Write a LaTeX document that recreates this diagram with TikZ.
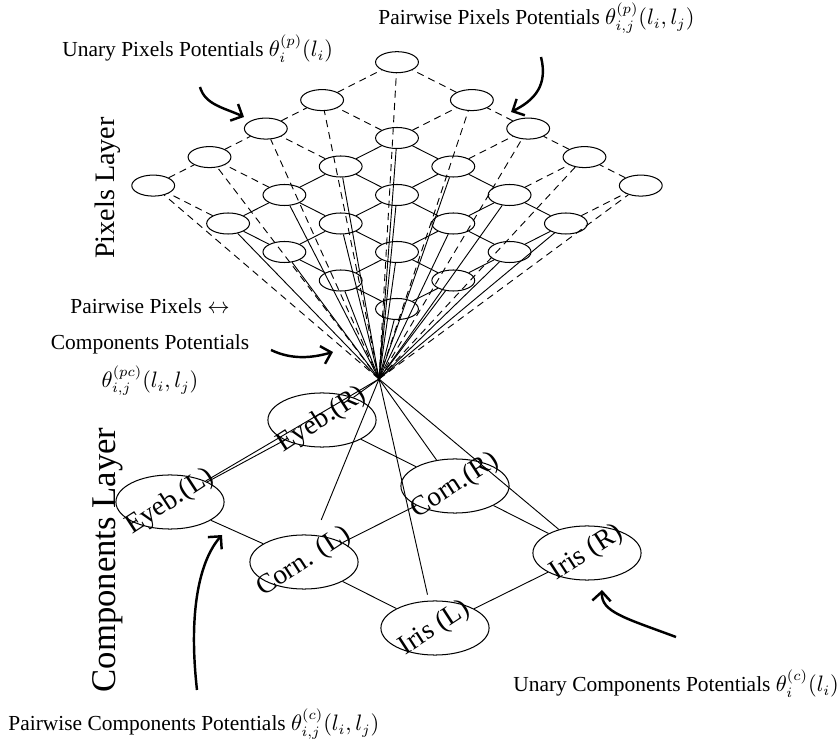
\documentclass[tikz,border=0pt]{standalone}
\usepackage{fontspec}
\setmainfont{Liberation Serif}
\usetikzlibrary{arrows.meta,shapes.geometric}
\begin{document}
\begin{tikzpicture}[x=0.49pt,y=-0.49pt,
  every node/.append style={font=\fontsize{10.5}{12.6}\selectfont},
  pix/.style={ellipse,draw,line width=0.5pt,minimum width=21pt,minimum height=10.3pt,inner sep=0pt},
  comp/.style={ellipse,draw,line width=0.5pt,minimum width=53pt,minimum height=26.5pt,inner sep=0pt},
  complabel/.style={rotate=33,inner sep=0pt,font=\fontsize{13.5}{16}\selectfont},
  txt/.style={anchor=base west,inner sep=0pt},
  solidedge/.style={line width=0.45pt},
  dashedge/.style={line width=0.45pt,dash pattern=on 3.5pt off 2.5pt},
  bigarrow/.style={line width=1.2pt,-{Straight Barb[length=4.5pt,width=9pt]}},
  layerlabel/.style={rotate=90,inner sep=0pt}
]
\useasboundingbox (0,0) rectangle (840,749);

% pixel nodes
\foreach \i/\ui in {0/0,1/1,2/2,3/3,4/4.33}{
  \foreach \j/\uj in {0/0,1/1,2/2,3/3,4/4.33}{
    \node[pix] (p\i\j) at ({397+56.3*(\uj-\ui)},{309-28.5*(\ui+\uj)}) {};
  }
}

% grid edges
\foreach \i in {0,...,3}{
  \foreach \j in {0,...,4}{
    \pgfmathtruncatemacro\ii{\i+1}
    \ifnum\ii=4\relax
      \draw[dashedge] (p\i\j)--(p\ii\j);
      \draw[dashedge] (p\j\i)--(p\j\ii);
    \else\ifnum\j=4\relax
      \draw[dashedge] (p\i\j)--(p\ii\j);
      \draw[dashedge] (p\j\i)--(p\j\ii);
    \else
      \draw[solidedge] (p\i\j)--(p\ii\j);
      \draw[solidedge] (p\j\i)--(p\j\ii);
    \fi\fi
  }
}

% convergence point
\coordinate (apex) at (379,379);
\foreach \i in {0,...,4}{
  \foreach \j in {0,...,4}{
    \pgfmathtruncatemacro\m{max(\i,\j)}
    \ifnum\m=4\relax
      \draw[dashedge] (apex)--(p\i\j);
    \else
      \draw[solidedge] (apex)--(p\i\j);
    \fi
  }
}

% components
\node[comp] (eyebR) at (322,420) {};
\node[comp] (eyebL) at (170,502) {};
\node[comp] (cornR) at (455,486) {};
\node[comp] (cornL) at (304,562) {};
\node[comp] (irisR) at (587,553) {};
\node[comp] (irisL) at (435,628) {};
\node[complabel] (eyebRt) at (eyebR) {Eyeb.(R)};
\node[complabel] (eyebLt) at (eyebL) {Eyeb.(L)};
\node[complabel] (cornRt) at (cornR) {Corn.(R)};
\node[complabel] (cornLt) at (cornL) {Corn. (L)};
\node[complabel] (irisRt) at (irisR) {Iris (R)};
\node[complabel] (irisLt) at (irisL) {Iris (L)};

\draw[solidedge] (eyebL)--(eyebR);
\draw[solidedge] (cornL)--(cornR);
\draw[solidedge] (irisL)--(irisR);
\draw[solidedge] (eyebL)--(cornL);
\draw[solidedge] (cornL)--(irisL);
\draw[solidedge] (eyebR)--(cornR);
\draw[solidedge] (cornR)--(irisR);

\draw[solidedge] (apex)--(eyebL);
\draw[solidedge] (apex)--(eyebR);
\draw[solidedge,shorten >=8pt] (apex)--(cornL);
\draw[solidedge] (apex)--(cornR);
\draw[solidedge,shorten >=3pt] (apex)--(irisL);
\draw[solidedge] (apex)--(irisR);

% labels
\node[txt] (lblUP) at (62,57) {Unary Pixels Potentials $\theta_i^{(p)}(l_i)$};
\node[txt] (lblPP) at (378,25) {Pairwise Pixels Potentials $\theta_{i,j}^{(p)}(l_i,l_j)$};
\node[align=center,inner sep=0pt] (lblPC) at (150,347) {Pairwise Pixels $\leftrightarrow$\\[5pt] Components Potentials\\[5pt] $\theta_{i,j}^{(pc)}(l_i,l_j)$};
\node[txt] (lblUC) at (513,692) {Unary Components Potentials $\theta_i^{(c)}(l_i)$};
\node[txt] (lblPCo) at (8,731) {Pairwise Components Potentials $\theta_{i,j}^{(c)}(l_i,l_j)$};
\node[layerlabel,font=\fontsize{13.8}{16}\selectfont] (lpix) at (108,188) {Pixels Layer};
\node[layerlabel,font=\fontsize{17}{20}\selectfont] (lcomp) at (108,560) {Components Layer};

% arrows
\coordinate (a1s) at (200,87);  \coordinate (a1e) at (244,117);
\coordinate (a2s) at (541,57);  \coordinate (a2e) at (511,112);
\coordinate (a3s) at (271,350); \coordinate (a3e) at (333,352);
\coordinate (a4s) at (676,637); \coordinate (a4e) at (602,590);
\coordinate (a5s) at (197,690); \coordinate (a5e) at (222,535);
\draw[bigarrow] (a1s) .. controls (205,105) and (225,108) .. (a1e);
\draw[bigarrow] (a2s) .. controls (548,85) and (535,100) .. (a2e);
\draw[bigarrow] (a3s) .. controls (292,360) and (312,358) .. (a3e);
\draw[bigarrow] (a4s) .. controls (625,618) and (601,612) .. (a4e);
\draw[bigarrow] (a5s) .. controls (188,610) and (200,560) .. (a5e);
\end{tikzpicture}
\end{document}
